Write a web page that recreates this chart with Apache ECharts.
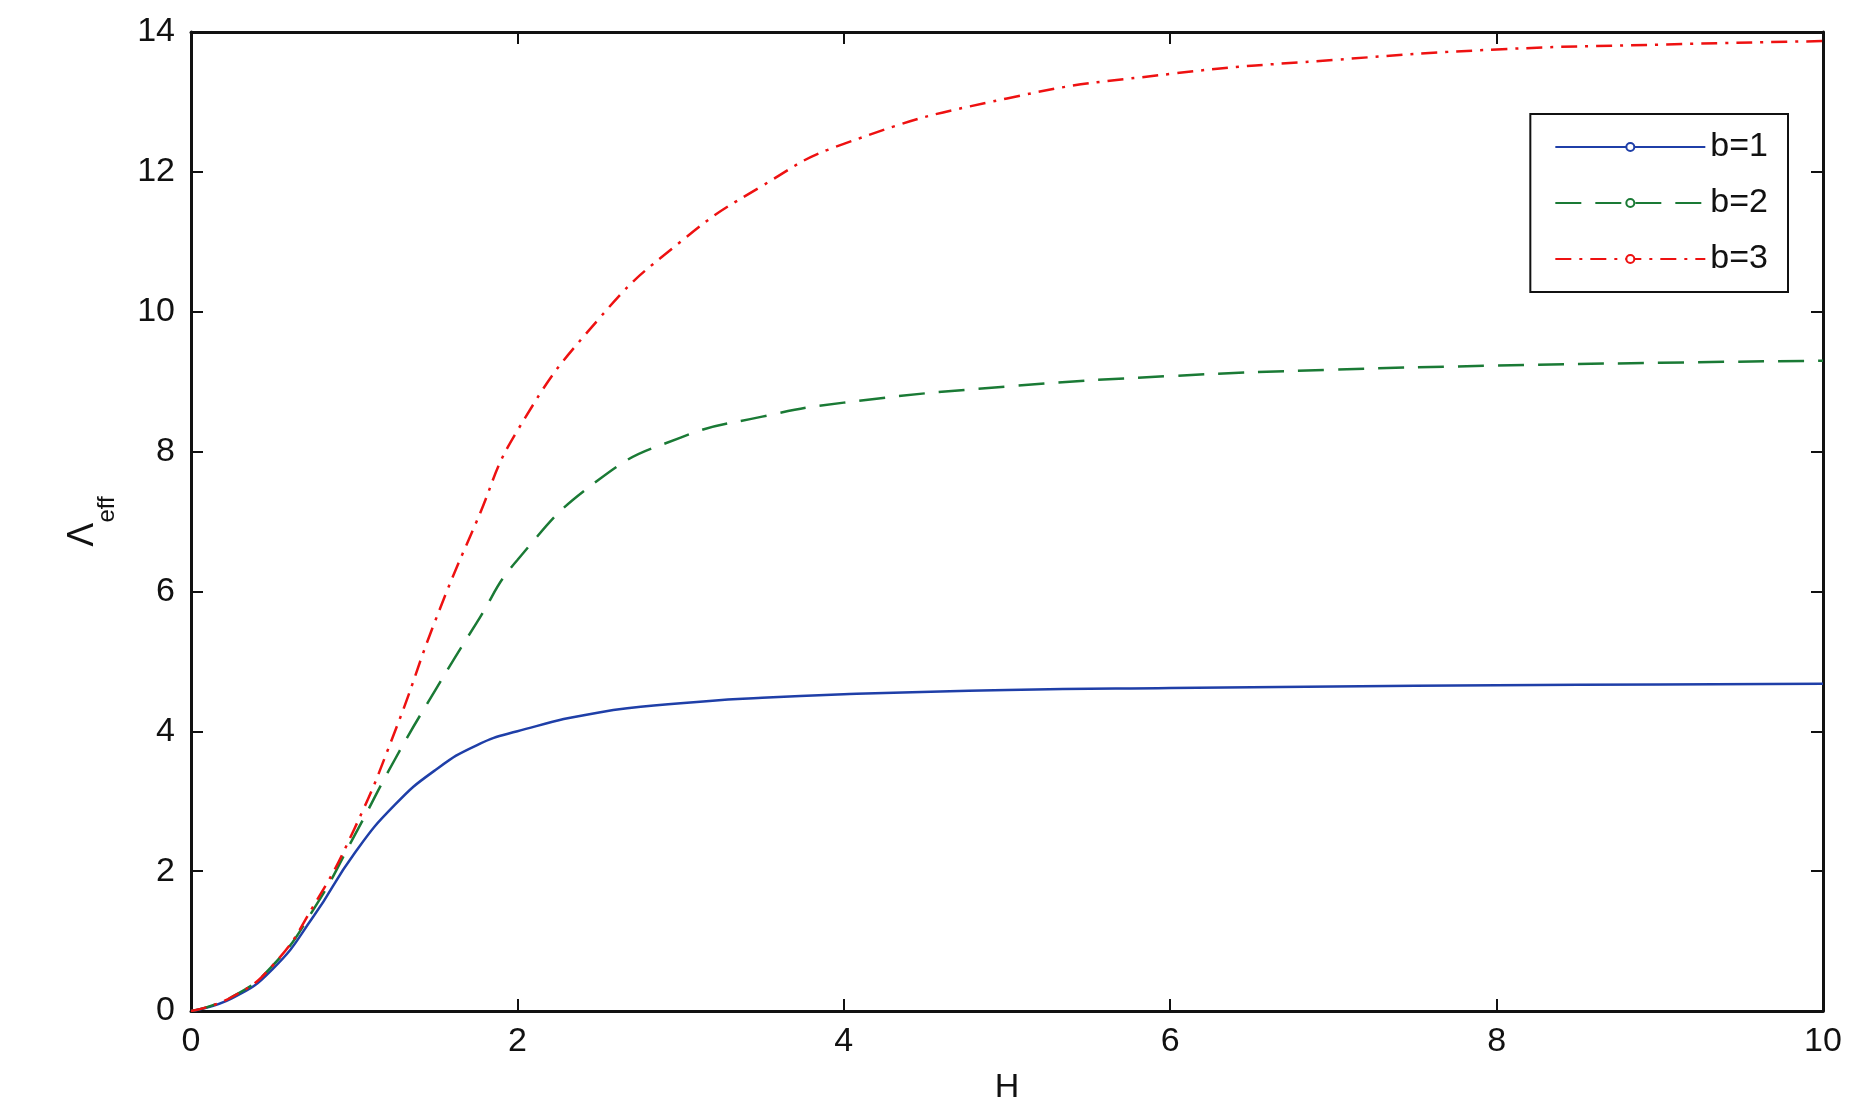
<!DOCTYPE html>
<html>
<head>
<meta charset="UTF-8">
<script src="https://cdn.jsdelivr.net/npm/echarts@6/dist/echarts.min.js"></script>
<style>body{margin:0}#main{width:1870px;height:1118px}</style>
</head>
<body>
<div id="main"></div>
<script>
var hVals = [0, 0.25, 0.5, 0.75, 1, 1.25, 1.5, 1.75, 2, 2.5, 3, 3.5, 4, 5, 6, 7, 8, 9, 10];
var b1 = [0, 0.18, 0.6, 1.35, 2.25, 2.95, 3.45, 3.8, 4.0, 4.27, 4.4, 4.48, 4.53, 4.59, 4.62, 4.64, 4.66, 4.67, 4.68];
var b2 = [0, 0.2, 0.65, 1.45, 2.5, 3.6, 4.6, 5.55, 6.45, 7.6, 8.2, 8.5, 8.7, 8.93, 9.08, 9.17, 9.23, 9.27, 9.3];
var b3 = [0, 0.2, 0.65, 1.5, 2.6, 4.0, 5.6, 7.0, 8.3, 9.9, 11.0, 11.8, 12.4, 13.05, 13.4, 13.6, 13.75, 13.82, 13.87];
function pairs(ys){ return hVals.map(function(h,i){return [h, ys[i]];}); }
var font = {fontFamily:'Liberation Sans', fontSize:34, color:'#111'};
var axisBase = {
  axisLine:{show:true, onZero:false, lineStyle:{color:'#111', width:3}},
  axisTick:{show:true, inside:true, length:12, lineStyle:{color:'#111', width:2}},
  splitLine:{show:false}
};
var chart = echarts.init(document.getElementById('main'));
chart.setOption({
  backgroundColor:'#fff',
  animation:false,
  grid:{left:191, top:32, right:47, bottom:107},
  legend:{
    right:82, top:114, orient:'vertical', itemWidth:150, itemHeight:10, itemGap:22,
    padding:[16,20,16,24], borderColor:'#111', borderWidth:2, backgroundColor:'#fff',
    textStyle:{fontFamily:'Liberation Sans', fontSize:34, color:'#111'},
    data:['b=1','b=2','b=3']
  },
  xAxis:[
    Object.assign({type:'value', min:0, max:10, interval:2, name:'H', nameLocation:'middle', nameGap:60,
      nameTextStyle:font, axisLabel:Object.assign({margin:14}, font)}, axisBase),
    Object.assign({type:'value', min:0, max:10, interval:2, position:'top', axisLabel:{show:false}}, axisBase)
  ],
  yAxis:[
    Object.assign({type:'value', min:0, max:14, interval:2, name:'{a|Λ}{b|eff}', nameLocation:'middle', nameGap:90,
      nameRotate:90, nameTextStyle:{rich:{a:{fontFamily:'Liberation Sans', fontSize:36, color:'#111'},
        b:{fontFamily:'Liberation Sans', fontSize:24, color:'#111', verticalAlign:'bottom', padding:[0,0,-18,0]}}},
      axisLabel:Object.assign({margin:16}, font)}, axisBase),
    Object.assign({type:'value', min:0, max:14, interval:2, position:'right', axisLabel:{show:false}}, axisBase)
  ],
  series:[
    {name:'b=1', type:'line', smooth:true, showSymbol:false, data:pairs(b1),
     lineStyle:{color:'#1f3fa8', width:2.5}, itemStyle:{color:'#1f3fa8'}},
    {name:'b=2', type:'line', smooth:true, showSymbol:false, data:pairs(b2),
     lineStyle:{color:'#1a7a35', width:2.5, type:[26,14]}, itemStyle:{color:'#1a7a35'}},
    {name:'b=3', type:'line', smooth:true, showSymbol:false, data:pairs(b3),
     lineStyle:{color:'#ee1111', width:2.5, type:[16,8,3,8]}, itemStyle:{color:'#ee1111'}}
  ]
});
</script>
</body>
</html>
